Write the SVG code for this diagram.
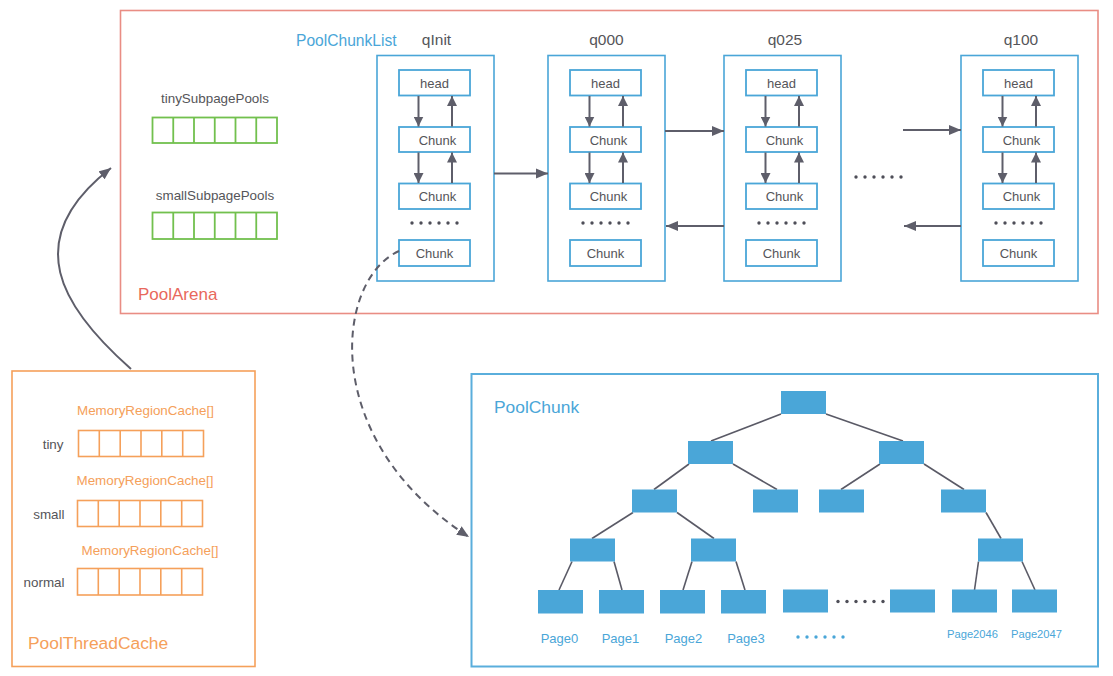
<svg xmlns="http://www.w3.org/2000/svg" width="1113" height="676" viewBox="0 0 1113 676">
  <style>
    .txt { font-family: "Liberation Sans", Arial, sans-serif; }
    .gray { fill: #555559; }
    .blue { fill: #4aa6d8; }
    .orange { fill: #f5a05a; }
    .red { fill: #e8685c; }
    .listbox { fill: #ffffff; stroke: #4aa6d8; stroke-width: 1.6; }
    .inner { fill: #ffffff; stroke: #4aa6d8; stroke-width: 1.8; }
    .link { stroke: #5e5e6a; stroke-width: 2; fill: none; }
    .green { fill: none; stroke: #72c04e; stroke-width: 1.8; }
    .cache { fill: none; stroke: #f5a05a; stroke-width: 1.6; }
    .node { fill: #4aa6d8; }
    .edge { stroke: #5a5a66; stroke-width: 1.6; fill: none; }
    .dot { fill: #4e4e58; }
    .bdot { fill: #4aa6d8; }
  </style>
  <defs>
    <marker id="arrow" viewBox="0 0 10 10" refX="10" refY="5" markerWidth="10" markerHeight="10" markerUnits="userSpaceOnUse" orient="auto">
      <path d="M0,0 L10,5 L0,10 z" fill="#5e5e6a"/>
    </marker>
    <marker id="arrowBig" viewBox="0 0 12 10" refX="12" refY="5" markerWidth="12" markerHeight="11" markerUnits="userSpaceOnUse" orient="auto">
      <path d="M0,0 L12,5 L0,10 z" fill="#5e5e6a"/>
    </marker>
  </defs>

  <!-- PoolArena container -->
  <g id="pool-arena">
    <rect x="120.5" y="10.5" width="977.5" height="303" fill="none" stroke="#e98d84" stroke-width="1.6"/>
    <text class="txt red" x="138" y="299.5" font-size="17">PoolArena</text>
    <text class="txt blue" x="296" y="45.5" font-size="15.6">PoolChunkList</text>
  </g>

  <!-- subpage pools -->
  <g id="tiny-subpage-pools">
    <text class="txt gray" x="215" y="102.5" font-size="13.4" text-anchor="middle">tinySubpagePools</text>
    <rect class="green" x="152.5" y="117.5" width="124.5" height="25.5"/>
    <path class="green" d="M173.25,117.5V143 M194,117.5V143 M214.75,117.5V143 M235.5,117.5V143 M256.25,117.5V143"/>
  </g>
  <g id="small-subpage-pools">
    <text class="txt gray" x="215" y="199.5" font-size="13.4" text-anchor="middle">smallSubpagePools</text>
    <rect class="green" x="152.5" y="212.5" width="124.5" height="26.5"/>
    <path class="green" d="M173.25,212.5V239 M194,212.5V239 M214.75,212.5V239 M235.5,212.5V239 M256.25,212.5V239"/>
  </g>

  <!-- chunk list qInit -->
  <g id="list-qinit">
    <text class="txt gray" x="436.5" y="44.5" font-size="15.5" text-anchor="middle">qInit</text>
    <rect class="listbox" x="377" y="55.5" width="117" height="225.5"/>
    <rect class="inner" x="399" y="70" width="71" height="25.5"/>
    <text class="txt gray" x="434.5" y="87.5" font-size="13" text-anchor="middle">head</text>
    <rect class="inner" x="399" y="127" width="71" height="25"/>
    <text class="txt gray" x="437.5" y="144.5" font-size="13" text-anchor="middle">Chunk</text>
    <rect class="inner" x="399" y="183.5" width="71" height="25.5"/>
    <text class="txt gray" x="437.5" y="201" font-size="13" text-anchor="middle">Chunk</text>
    <g class="dot"><circle cx="412" cy="223" r="1.7"/><circle cx="421" cy="223" r="1.7"/><circle cx="430" cy="223" r="1.7"/><circle cx="439" cy="223" r="1.7"/><circle cx="448" cy="223" r="1.7"/><circle cx="457" cy="223" r="1.7"/></g>
    <rect class="inner" x="399" y="240" width="71" height="26"/>
    <text class="txt gray" x="434.5" y="258" font-size="13" text-anchor="middle">Chunk</text>
  </g>

  <!-- chunk list q000 -->
  <g id="list-q000">
    <text class="txt gray" x="606.5" y="44.5" font-size="15.5" text-anchor="middle">q000</text>
    <rect class="listbox" x="548" y="55.5" width="117" height="225.5"/>
    <rect class="inner" x="570" y="70" width="71" height="25.5"/>
    <text class="txt gray" x="605.5" y="87.5" font-size="13" text-anchor="middle">head</text>
    <rect class="inner" x="570" y="127" width="71" height="25"/>
    <text class="txt gray" x="608.5" y="144.5" font-size="13" text-anchor="middle">Chunk</text>
    <rect class="inner" x="570" y="183.5" width="71" height="25.5"/>
    <text class="txt gray" x="608.5" y="201" font-size="13" text-anchor="middle">Chunk</text>
    <g class="dot"><circle cx="583" cy="223" r="1.7"/><circle cx="592" cy="223" r="1.7"/><circle cx="601" cy="223" r="1.7"/><circle cx="610" cy="223" r="1.7"/><circle cx="619" cy="223" r="1.7"/><circle cx="628" cy="223" r="1.7"/></g>
    <rect class="inner" x="570" y="240" width="71" height="26"/>
    <text class="txt gray" x="605.5" y="258" font-size="13" text-anchor="middle">Chunk</text>
  </g>

  <!-- chunk list q025 -->
  <g id="list-q025">
    <text class="txt gray" x="785" y="44.5" font-size="15.5" text-anchor="middle">q025</text>
    <rect class="listbox" x="724" y="55.5" width="117" height="225.5"/>
    <rect class="inner" x="746" y="70" width="71" height="25.5"/>
    <text class="txt gray" x="781.5" y="87.5" font-size="13" text-anchor="middle">head</text>
    <rect class="inner" x="746" y="127" width="71" height="25"/>
    <text class="txt gray" x="784.5" y="144.5" font-size="13" text-anchor="middle">Chunk</text>
    <rect class="inner" x="746" y="183.5" width="71" height="25.5"/>
    <text class="txt gray" x="784.5" y="201" font-size="13" text-anchor="middle">Chunk</text>
    <g class="dot"><circle cx="759" cy="223" r="1.7"/><circle cx="768" cy="223" r="1.7"/><circle cx="777" cy="223" r="1.7"/><circle cx="786" cy="223" r="1.7"/><circle cx="795" cy="223" r="1.7"/><circle cx="804" cy="223" r="1.7"/></g>
    <rect class="inner" x="746" y="240" width="71" height="26"/>
    <text class="txt gray" x="781.5" y="258" font-size="13" text-anchor="middle">Chunk</text>
  </g>

  <!-- gap between q025 and q100 -->
  <g id="list-gap" class="dot">
    <circle cx="856" cy="177" r="1.7"/><circle cx="865" cy="177" r="1.7"/><circle cx="874" cy="177" r="1.7"/><circle cx="883" cy="177" r="1.7"/><circle cx="892" cy="177" r="1.7"/><circle cx="901" cy="177" r="1.7"/>
  </g>

  <!-- chunk list q100 -->
  <g id="list-q100">
    <text class="txt gray" x="1021" y="44.5" font-size="15.5" text-anchor="middle">q100</text>
    <rect class="listbox" x="961" y="55.5" width="117" height="225.5"/>
    <rect class="inner" x="983" y="70" width="71" height="25.5"/>
    <text class="txt gray" x="1018.5" y="87.5" font-size="13" text-anchor="middle">head</text>
    <rect class="inner" x="983" y="127" width="71" height="25"/>
    <text class="txt gray" x="1021.5" y="144.5" font-size="13" text-anchor="middle">Chunk</text>
    <rect class="inner" x="983" y="183.5" width="71" height="25.5"/>
    <text class="txt gray" x="1021.5" y="201" font-size="13" text-anchor="middle">Chunk</text>
    <g class="dot"><circle cx="996" cy="223" r="1.7"/><circle cx="1005" cy="223" r="1.7"/><circle cx="1014" cy="223" r="1.7"/><circle cx="1023" cy="223" r="1.7"/><circle cx="1032" cy="223" r="1.7"/><circle cx="1041" cy="223" r="1.7"/></g>
    <rect class="inner" x="983" y="240" width="71" height="26"/>
    <text class="txt gray" x="1018.5" y="258" font-size="13" text-anchor="middle">Chunk</text>
  </g>

  <!-- PoolThreadCache -->
  <g id="pool-thread-cache">
    <rect x="12" y="371" width="243" height="295.5" fill="none" stroke="#f5a05a" stroke-width="1.6"/>
    <text class="txt orange" x="77" y="414.5" font-size="13.4">MemoryRegionCache[]</text>
    <text class="txt gray" x="63.5" y="448.5" font-size="13.4" text-anchor="end">tiny</text>
    <rect class="cache" x="78.5" y="430.5" width="125" height="26"/>
    <path class="cache" d="M99.3,430.5V456.5 M120.2,430.5V456.5 M141,430.5V456.5 M161.8,430.5V456.5 M182.7,430.5V456.5"/>
    <text class="txt orange" x="76.5" y="485" font-size="13.4">MemoryRegionCache[]</text>
    <text class="txt gray" x="64.5" y="519" font-size="13.4" text-anchor="end">small</text>
    <rect class="cache" x="77.5" y="500.5" width="125" height="26"/>
    <path class="cache" d="M98.3,500.5V526.5 M119.2,500.5V526.5 M140,500.5V526.5 M160.8,500.5V526.5 M181.7,500.5V526.5"/>
    <text class="txt orange" x="81.5" y="555" font-size="13.4">MemoryRegionCache[]</text>
    <text class="txt gray" x="64.5" y="587" font-size="13.4" text-anchor="end">normal</text>
    <rect class="cache" x="77.5" y="568.5" width="125" height="26.5"/>
    <path class="cache" d="M98.3,568.5V595 M119.2,568.5V595 M140,568.5V595 M160.8,568.5V595 M181.7,568.5V595"/>
    <text class="txt orange" x="28" y="648.5" font-size="17.4">PoolThreadCache</text>
  </g>

  <!-- PoolChunk binary tree -->
  <g id="pool-chunk">
    <rect x="471.5" y="374" width="626.5" height="292.5" fill="none" stroke="#5aaedc" stroke-width="2"/>
    <text class="txt blue" x="494" y="413" font-size="17.4">PoolChunk</text>
    <g class="edge">
      <path d="M781,414 L711,441"/>
      <path d="M826,414 L903,441"/>
      <path d="M689,464 L654,489.5"/>
      <path d="M733,464 L777,489.5"/>
      <path d="M880,464 L841,489.5"/>
      <path d="M924,464 L964,489.5"/>
      <path d="M633,512.5 L592,538.5"/>
      <path d="M677,512.5 L714,538.5"/>
      <path d="M986,512.5 L1001,538.5"/>
      <path d="M572,561.5 L559,590"/>
      <path d="M614,561.5 L622,590"/>
      <path d="M692,561.5 L683,590"/>
      <path d="M736,561.5 L745,590"/>
      <path d="M978.5,561.5 L974.5,590"/>
      <path d="M1022,561.5 L1035,590"/>
    </g>
    <g class="node">
      <rect x="781" y="391" width="45" height="23"/>
      <rect x="688" y="441" width="45" height="23"/>
      <rect x="879" y="441" width="45" height="23"/>
      <rect x="632" y="489.5" width="45" height="23"/>
      <rect x="753" y="489.5" width="45" height="23"/>
      <rect x="819" y="489.5" width="45" height="23"/>
      <rect x="941" y="489.5" width="45" height="23"/>
      <rect x="570" y="538.5" width="45" height="23"/>
      <rect x="691" y="538.5" width="45" height="23"/>
      <rect x="978" y="538.5" width="45" height="23"/>
      <rect x="538" y="590" width="45" height="23.5"/>
      <rect x="599" y="590" width="45" height="23.5"/>
      <rect x="660" y="590" width="45" height="23.5"/>
      <rect x="721" y="590" width="45" height="23.5"/>
      <rect x="783" y="589.5" width="45" height="23"/>
      <rect x="890" y="589.5" width="45" height="23"/>
      <rect x="952" y="589.5" width="45" height="23"/>
      <rect x="1012" y="589.5" width="45" height="23"/>
    </g>
    <g class="dot">
      <circle cx="838" cy="601.5" r="1.7"/><circle cx="847" cy="601.5" r="1.7"/><circle cx="856" cy="601.5" r="1.7"/><circle cx="865" cy="601.5" r="1.7"/><circle cx="874" cy="601.5" r="1.7"/><circle cx="883" cy="601.5" r="1.7"/>
    </g>
    <text class="txt blue" x="559.5" y="642.5" font-size="13" text-anchor="middle">Page0</text>
    <text class="txt blue" x="620.5" y="642.5" font-size="13" text-anchor="middle">Page1</text>
    <text class="txt blue" x="683.5" y="642.5" font-size="13" text-anchor="middle">Page2</text>
    <text class="txt blue" x="746" y="642.5" font-size="13" text-anchor="middle">Page3</text>
    <g class="bdot">
      <circle cx="798" cy="637" r="1.7"/><circle cx="807" cy="637" r="1.7"/><circle cx="816" cy="637" r="1.7"/><circle cx="825" cy="637" r="1.7"/><circle cx="834" cy="637" r="1.7"/><circle cx="843" cy="637" r="1.7"/>
    </g>
    <text class="txt blue" x="972.5" y="638" font-size="11.2" text-anchor="middle">Page2046</text>
    <text class="txt blue" x="1036.5" y="638" font-size="11.2" text-anchor="middle">Page2047</text>
  </g>

  <!-- connectors -->
  <g id="connectors">
    <!-- links inside each chunk list: next (down) and prev (up) -->
    <g class="link">
      <path d="M418.5,96 V126.5" marker-end="url(#arrow)"/>
      <path d="M452,126.5 V96" marker-end="url(#arrow)"/>
      <path d="M418.5,152.5 V183" marker-end="url(#arrow)"/>
      <path d="M452,183 V152.5" marker-end="url(#arrow)"/>
      <path d="M589.5,96 V126.5" marker-end="url(#arrow)"/>
      <path d="M623,126.5 V96" marker-end="url(#arrow)"/>
      <path d="M589.5,152.5 V183" marker-end="url(#arrow)"/>
      <path d="M623,183 V152.5" marker-end="url(#arrow)"/>
      <path d="M765.5,96 V126.5" marker-end="url(#arrow)"/>
      <path d="M799,126.5 V96" marker-end="url(#arrow)"/>
      <path d="M765.5,152.5 V183" marker-end="url(#arrow)"/>
      <path d="M799,183 V152.5" marker-end="url(#arrow)"/>
      <path d="M1002.5,96 V126.5" marker-end="url(#arrow)"/>
      <path d="M1036,126.5 V96" marker-end="url(#arrow)"/>
      <path d="M1002.5,152.5 V183" marker-end="url(#arrow)"/>
      <path d="M1036,183 V152.5" marker-end="url(#arrow)"/>
    </g>
    <!-- links between chunk lists -->
    <g class="link">
      <path d="M494,173.5 H548" marker-end="url(#arrowBig)"/>
      <path d="M665,131 H724" marker-end="url(#arrowBig)"/>
      <path d="M903,130 H961" marker-end="url(#arrowBig)"/>
      <path d="M724,226 H666" marker-end="url(#arrowBig)"/>
      <path d="M961,226 H904" marker-end="url(#arrowBig)"/>
    </g>
    <!-- thread cache to arena -->
    <path class="link" d="M131,369 C62,308 18,240 111,168" stroke-width="1.6" marker-end="url(#arrowBig)"/>
    <!-- chunk in qInit expands into PoolChunk -->
    <path class="link" d="M399,251 C335,280 318,440 469,537" stroke-width="1.6" stroke-dasharray="7 5" marker-end="url(#arrowBig)"/>
  </g>
</svg>
